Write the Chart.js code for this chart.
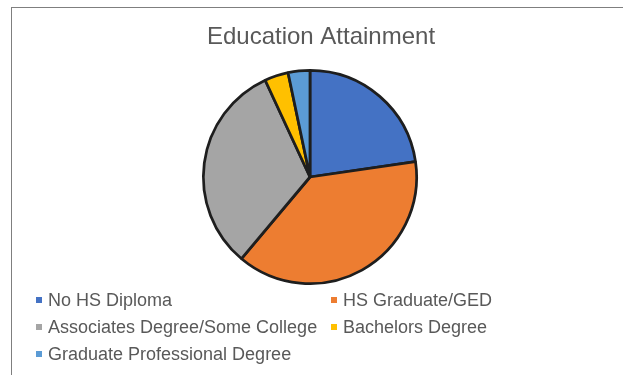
<!DOCTYPE html>
<html>
<head>
<meta charset="utf-8">
<title>Education Attainment</title>
<script src="https://cdn.jsdelivr.net/npm/chart.js@4/dist/chart.umd.min.js"></script>
<style>
  html, body { margin: 0; padding: 0; background: #fff; }
  #wrap { position: relative; width: 623px; height: 375px; }
</style>
</head>
<body>
<div id="wrap"><canvas id="eduChart" width="623" height="375"></canvas></div>
<script>
// shares of the population by highest level reached (%)
var categories = ['No HS Diploma', 'HS Graduate/GED', 'Associates Degree/Some College', 'Bachelors Degree', 'Graduate Professional Degree'];
var shares = [22.7, 38.4, 32.0, 3.6, 3.3];
var sliceColors = ['#4472C4', '#ED7D31', '#A5A5A5', '#FFC000', '#5B9BD5'];

// frame, title and the two-column legend are painted straight onto the canvas
var frameAndLegend = {
  id: 'frameAndLegend',
  afterDraw: function (chart) {
    var ctx = chart.ctx;
    ctx.save();
    ctx.strokeStyle = '#7f7f7f';
    ctx.lineWidth = 1;
    ctx.strokeRect(11.5, 7.5, 700, 500);

    ctx.fillStyle = '#595959';
    ctx.font = '24px "Liberation Sans", Arial, sans-serif';
    ctx.textAlign = 'center';
    ctx.textBaseline = 'alphabetic';
    ctx.fillText('Education Attainment', 321, 44);

    var cols = [36, 331];
    var rows = [300, 327, 354];
    ctx.font = '18px "Liberation Sans", Arial, sans-serif';
    ctx.textAlign = 'left';
    ctx.textBaseline = 'middle';
    chart.data.labels.forEach(function (label, i) {
      var x = cols[i % 2];
      var y = rows[Math.floor(i / 2)];
      ctx.fillStyle = sliceColors[i];
      ctx.fillRect(x, y - 3, 6, 6);
      ctx.fillStyle = '#595959';
      ctx.fillText(label, x + 12, y + 1);
    });
    ctx.restore();
  }
};

var ctx = document.getElementById('eduChart').getContext('2d');
var chart = new Chart(ctx, {
  type: 'pie',
  data: {
    labels: categories,
    datasets: [{
      data: shares,
      backgroundColor: sliceColors,
      borderColor: '#1e1e1e',
      borderWidth: 2.75
    }]
  },
  options: {
    responsive: false,
    animation: false,
    layout: { padding: { left: 202, right: 205, top: 69, bottom: 90 } },
    plugins: {
      legend: { display: false },
      title: { display: false },
      tooltip: { enabled: false }
    }
  },
  plugins: [frameAndLegend]
});
</script>
</body>
</html>
